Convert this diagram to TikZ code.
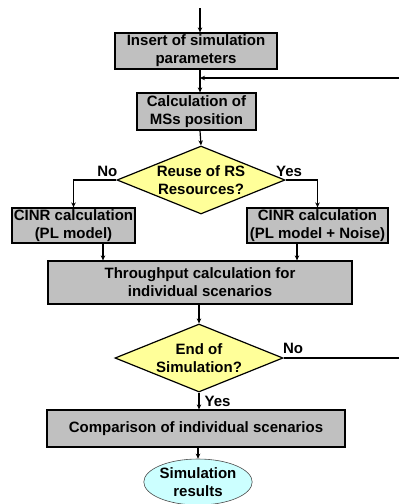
\documentclass[tikz,border=0pt]{standalone}
\usepackage{fontspec}
\setmainfont{Liberation Sans}
\usetikzlibrary{shapes.geometric,arrows.meta}
\definecolor{boxgray}{RGB}{192,192,192}
\definecolor{askyellow}{RGB}{255,255,153}
\definecolor{endcyan}{RGB}{204,255,255}
\tikzset{
  box/.style={draw,fill=boxgray,line width=1.2pt,inner sep=1pt,align=center},
  ask/.style={diamond,aspect=2.47,draw,fill=askyellow,line width=1.2pt,inner sep=0pt,
    minimum width=168pt,minimum height=68pt,align=center},
  done/.style={ellipse,draw=black!70,fill=endcyan,line width=.6pt,inner sep=0pt,
    minimum width=100pt,minimum height=46pt,align=center},
  flow/.style={-{Stealth[length=5pt,width=4.5pt]},line width=1.2pt},
  tag/.style={inner sep=0pt}
}
\begin{document}
\begin{tikzpicture}[x=1pt,y=-1pt,font=\fontsize{15}{18}\selectfont\bfseries]
\useasboundingbox (0,0) rectangle (399,504);
% main line of the chart
\coordinate (axis) at (200,0);
\coordinate (start) at (200,8);
% simulation setup
\node [box,minimum width=162pt,minimum height=36pt] (insert) at (196,51)
  {Insert of simulation\\parameters};
\coordinate (join) at (200,78);
\node [box,minimum width=119pt,minimum height=37pt] (place) at (196.5,111.5)
  {Calculation of\\MSs position};
% first question
\node [ask] (reuse) at (201,180) {Reuse of RS\\Resources?};
% the two CINR boxes
\node [box,minimum width=123pt,minimum height=35pt] (cinrpl) at (73.5,225.5)
  {CINR calculation\\(PL model)};
\node [box,minimum width=141pt,minimum height=35pt] (cinrnoise) at (317.5,225.5)
  {CINR calculation\\(PL model + Noise)};
% throughput
\node [box,minimum width=304pt,minimum height=43pt] (thru) at (200,282.5)
  {Throughput calculation for\\individual scenarios};
% second question
\node [ask] (finish) at (199,358) {End of\\Simulation?};
\coordinate (back) at (406,358);
\coordinate (up) at (406,78);
% comparison and results
\node [box,minimum width=298pt,minimum height=37pt] (compare) at (196,428.5)
  {Comparison of individual scenarios};
\node [done] (results) at (198,482) {Simulation\\results};
% connectors
\draw [flow] (start) -- (insert.north -| axis);
\draw [line width=1.2pt] (insert.south -| axis) -- (join);
\draw [flow] (join) -- (place.north -| axis);
\draw [flow] (place.south -| axis) -- (reuse.north);
\draw [flow] (reuse.west) node [tag,anchor=south east] at (118,177) {No}
  -| (cinrpl.north);
\draw [flow] (reuse.east) node [tag,anchor=south] at (289,177) {Yes}
  -| (cinrnoise.north);
\draw [flow] (cinrpl.south -| 103,0) -- (thru.north -| 103,0);
\draw [flow] (cinrnoise.south -| 297,0) -- (thru.north -| 297,0);
\draw [flow] (thru.south -| finish) -- (finish.north);
\draw [line width=1.2pt] (finish.east) node [tag,anchor=south] at (293,354) {No}
  -- (back) -- (up);
\draw [flow] (up) -- (join);
\draw [flow] (finish.south) node [tag,anchor=west] at (204,401) {Yes}
  -- (compare.north -| finish);
\draw [flow] (compare.south -| results) -- (results.north);
\end{tikzpicture}
\end{document}
